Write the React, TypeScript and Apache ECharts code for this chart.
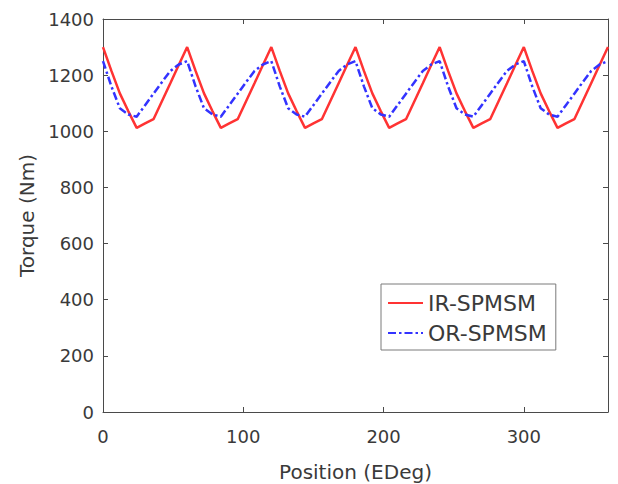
import React, { useEffect, useRef } from "react";
import * as echarts from "echarts";

const positions: number[] = [
  0, 6, 12, 18, 24, 30, 36, 42, 48, 54,
  60, 66, 72, 78, 84, 90, 96, 102, 108, 114,
  120, 126, 132, 138, 144, 150, 156, 162, 168, 174,
  180, 186, 192, 198, 204, 210, 216, 222, 228, 234,
  240, 246, 252, 258, 264, 270, 276, 282, 288, 294,
  300, 306, 312, 318, 324, 330, 336, 342, 348, 354,
  360,
];

const irSpmsm: number[] = [
  1300, 1215, 1135, 1072, 1012, 1028, 1043, 1107, 1171, 1236,
  1300, 1215, 1135, 1072, 1012, 1028, 1043, 1107, 1171, 1236,
  1300, 1215, 1135, 1072, 1012, 1028, 1043, 1107, 1171, 1236,
  1300, 1215, 1135, 1072, 1012, 1028, 1043, 1107, 1171, 1236,
  1300, 1215, 1135, 1072, 1012, 1028, 1043, 1107, 1171, 1236,
  1300, 1215, 1135, 1072, 1012, 1028, 1043, 1107, 1171, 1236,
  1300,
];

const orSpmsm: number[] = [
  1250, 1160, 1082, 1060, 1052, 1093, 1134, 1175, 1215, 1238,
  1250, 1160, 1082, 1060, 1052, 1093, 1134, 1175, 1215, 1238,
  1250, 1160, 1082, 1060, 1052, 1093, 1134, 1175, 1215, 1238,
  1250, 1160, 1082, 1060, 1052, 1093, 1134, 1175, 1215, 1238,
  1250, 1160, 1082, 1060, 1052, 1093, 1134, 1175, 1215, 1238,
  1250, 1160, 1082, 1060, 1052, 1093, 1134, 1175, 1215, 1238,
  1250,
];

const seriesNames: string[] = ["IR-SPMSM", "OR-SPMSM"];
const xTicks: number[] = [0, 100, 200, 300];
const yTicks: number[] = [0, 200, 400, 600, 800, 1000, 1200, 1400];

const FONT = "DejaVu Sans";
const TXT = "#3a3a3a";
const AX = "#4a4a4a";

export default function App() {
  const ref = useRef<HTMLDivElement>(null);
  useEffect(() => {
    if (!ref.current) return;
    const chart = echarts.init(ref.current, undefined, { renderer: "svg" });
    const xMax = 360;
    const yMin = yTicks[0];
    const yMax = yTicks[yTicks.length - 1];
    const yInt = yTicks[1] - yTicks[0];
    const xInt = xTicks[1] - xTicks[0];
    const baseX = {
      type: "value" as const,
      min: 0,
      max: xMax,
      interval: xInt,
      axisLine: { show: true, onZero: false, lineStyle: { color: AX, width: 1 } },
      axisTick: { show: true, inside: true, length: 5, lineStyle: { color: AX } },
      splitLine: { show: false },
    };
    const baseY = {
      type: "value" as const,
      min: yMin,
      max: yMax,
      interval: yInt,
      axisLine: { show: true, onZero: false, lineStyle: { color: AX, width: 1 } },
      axisTick: { show: true, inside: true, length: 5, lineStyle: { color: AX } },
      splitLine: { show: false },
    };
    chart.setOption({
      animation: false,
      backgroundColor: "#ffffff",
      grid: {
        left: 103,
        right: 10,
        top: 19,
        bottom: 72,
        containLabel: false,
        outerBoundsMode: "none",
      },
      legend: {
        orient: "vertical",
        left: 381,
        top: 284,
        data: seriesNames,
        backgroundColor: "#ffffff",
        borderColor: "#7a7a7a",
        borderWidth: 1,
        padding: [6, 9, 4, 6],
        itemGap: 4,
        itemWidth: 35,
        itemHeight: 14,
        itemStyle: { opacity: 0 },
        textStyle: { fontFamily: FONT, fontSize: 22, color: TXT, lineHeight: 26 },
      },
      xAxis: [
        {
          ...baseX,
          position: "bottom",
          name: "Position (EDeg)",
          nameLocation: "middle",
          nameGap: 50,
          nameTextStyle: { fontFamily: FONT, fontSize: 20, color: TXT },
          axisLabel: {
            show: true,
            margin: 15,
            fontFamily: FONT,
            fontSize: 18,
            color: TXT,
            formatter: (v: number) => (xTicks.indexOf(v) >= 0 ? String(v) : ""),
          },
        },
        { ...baseX, position: "top", axisLabel: { show: false } },
      ],
      yAxis: [
        {
          ...baseY,
          position: "left",
          name: "Torque (Nm)",
          nameLocation: "middle",
          nameGap: 61,
          nameTextStyle: { fontFamily: FONT, fontSize: 20, color: TXT },
          axisLabel: {
            show: true,
            margin: 9,
            fontFamily: FONT,
            fontSize: 18,
            color: TXT,
            formatter: (v: number) => String(v),
          },
        },
        { ...baseY, position: "right", axisLabel: { show: false } },
      ],
      series: [
        {
          name: seriesNames[0],
          type: "line",
          data: positions.map((p, i) => [p, irSpmsm[i]]),
          symbol: "none",
          lineStyle: { color: "#ff3333", width: 2.5, type: "solid" },
          itemStyle: { color: "#ff3333" },
        },
        {
          name: seriesNames[1],
          type: "line",
          data: positions.map((p, i) => [p, orSpmsm[i]]),
          symbol: "none",
          lineStyle: { color: "#3333ff", width: 2.5, type: [8, 3, 2.5, 3] },
          itemStyle: { color: "#3333ff" },
        },
      ],
    });
    return () => chart.dispose();
  }, []);
  return (
    <div
      ref={ref}
      style={{ position: "fixed", left: 0, top: 0, width: 618, height: 484 }}
    />
  );
}
